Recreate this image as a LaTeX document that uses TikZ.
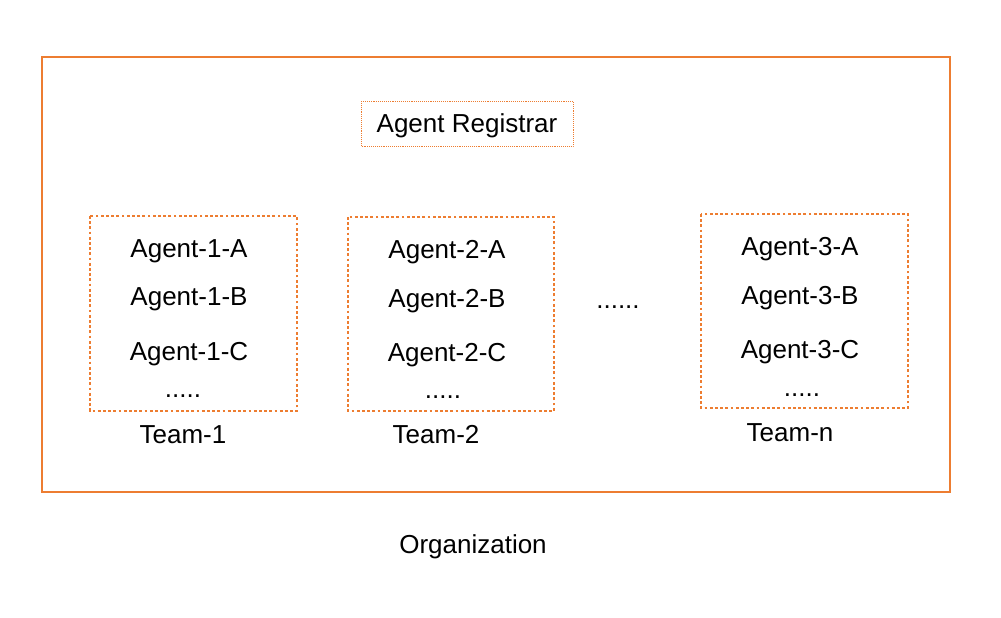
\documentclass[tikz,border=0pt]{standalone}
\usepackage{fontspec}
\setmainfont{Liberation Sans}
\definecolor{org}{HTML}{ED7D31}
\begin{document}
\begin{tikzpicture}[x=1pt,y=-1pt,
  txt/.style={inner sep=0pt,anchor=base,font=\fontsize{26}{30}\selectfont,text=black},
  teambox/.style={draw=org,line width=2.8pt,dash pattern=on 2.8pt off 2.4pt},
  regbox/.style={draw=org,line width=0.9pt,densely dotted}]
\useasboundingbox (0,0) rectangle (1001,618);
\draw[draw=org,line width=1.8pt] (42,57) rectangle (950,492);
\draw[regbox] (361,101) rectangle (573,146);
\node[txt] (reg) at (467,132) {Agent Registrar};
\draw[teambox] (90,216) rectangle (297,411);
\draw[teambox] (348,217) rectangle (554,411);
\draw[teambox] (701,214) rectangle (908,408);
\node[txt] (a1a) at (189,257) {Agent-1-A};
\node[txt] (a1b) at (189,305) {Agent-1-B};
\node[txt] (a1c) at (189,360) {Agent-1-C};
\node[txt] (d1) at (183,397) {.....};
\node[txt] (t1) at (183,443) {Team-1};
\node[txt] (a2a) at (447,258) {Agent-2-A};
\node[txt] (a2b) at (447,307) {Agent-2-B};
\node[txt] (a2c) at (447,361) {Agent-2-C};
\node[txt] (d2) at (443,398) {.....};
\node[txt] (t2) at (436,443) {Team-2};
\node[txt] (a3a) at (800,255) {Agent-3-A};
\node[txt] (a3b) at (800,304) {Agent-3-B};
\node[txt] (a3c) at (800,358) {Agent-3-C};
\node[txt] (d3) at (802,396) {.....};
\node[txt] (tn) at (790,441) {Team-n};
\node[txt] (dm) at (618,308) {......};
\node[txt] (orgname) at (473,553) {Organization};
\end{tikzpicture}
\end{document}
